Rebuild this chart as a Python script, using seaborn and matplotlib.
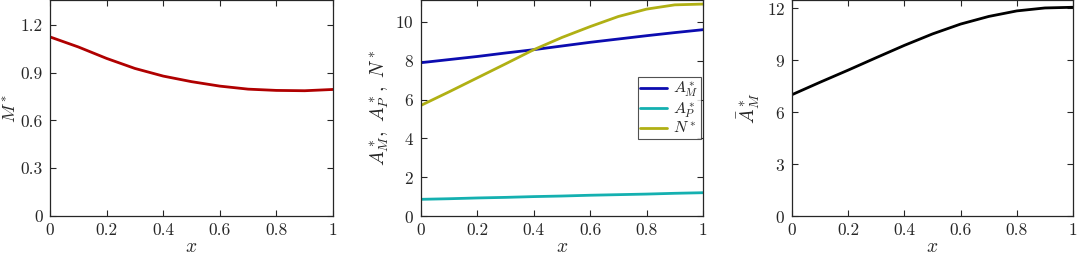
import matplotlib
matplotlib.use('Agg')
import matplotlib.pyplot as plt
import seaborn as sns

# values
x = [0, 0.1, 0.2, 0.3, 0.4, 0.5, 0.6, 0.7, 0.8, 0.9, 1.0]
m_star = [1.125, 1.062, 0.990, 0.927, 0.879, 0.844, 0.816, 0.797, 0.789, 0.787, 0.795]
a_m = [7.90, 8.06, 8.22, 8.40, 8.57, 8.76, 8.95, 9.12, 9.29, 9.45, 9.60]
a_p = [0.86, 0.89, 0.93, 0.96, 1.00, 1.03, 1.07, 1.10, 1.13, 1.17, 1.20]
n_star = [5.70, 6.40, 7.12, 7.84, 8.57, 9.20, 9.76, 10.28, 10.66, 10.88, 10.92]
a_m_bar = [7.01, 7.73, 8.43, 9.15, 9.86, 10.52, 11.09, 11.53, 11.85, 12.02, 12.06]

sns.set_theme(style='ticks')
plt.rcParams['font.family'] = ['cmr10', 'DejaVu Serif']
plt.rcParams['mathtext.fontset'] = 'cm'
plt.rcParams['axes.formatter.use_mathtext'] = True
plt.rcParams['axes.edgecolor'] = '#262626'
plt.rcParams['xtick.color'] = '#262626'
plt.rcParams['ytick.color'] = '#262626'

fig = plt.figure(figsize=(10.78, 2.59), dpi=100)
ax1 = fig.add_axes([0.0464, 0.166, 0.2625, 0.834])
ax2 = fig.add_axes([0.3905, 0.166, 0.2616, 0.834])
ax3 = fig.add_axes([0.7347, 0.166, 0.2607, 0.834])

sns.lineplot(x=x, y=m_star, ax=ax1, color='#b00000', lw=2)
sns.lineplot(x=x, y=a_m, ax=ax2, color='#0c0cb0', lw=2, label='$A^*_M$')
sns.lineplot(x=x, y=a_p, ax=ax2, color='#14b0b0', lw=2, label='$A^*_P$')
sns.lineplot(x=x, y=n_star, ax=ax2, color='#b0b014', lw=2, label='$N^*$')
sns.lineplot(x=x, y=a_m_bar, ax=ax3, color='black', lw=2)

ax1.set_ylim(0, 1.357)
ax1.set_yticks([0, 0.3, 0.6, 0.9, 1.2])
ax1.set_yticklabels(['0', '0.3', '0.6', '0.9', '1.2'])
ax2.set_ylim(0, 11.13)
ax2.set_yticks([0, 2, 4, 6, 8, 10])
ax3.set_ylim(0, 12.48)
ax3.set_yticks([0, 3, 6, 9, 12])

ax1.set_ylabel('$M^*$', fontsize=13, labelpad=1)
ax2.set_ylabel('$A^*_M,\\ A^*_P,\\ N^*$', fontsize=14, labelpad=3)
ax3.set_ylabel('$\\bar{A}^*_M$', fontsize=14, labelpad=3)

for ax in (ax1, ax2, ax3):
    ax.set_xlim(0, 1)
    ax.set_xticks([0, 0.2, 0.4, 0.6, 0.8, 1])
    ax.set_xticklabels(['0', '0.2', '0.4', '0.6', '0.8', '1'])
    ax.set_xlabel('$x$', fontsize=14, labelpad=0)
    ax.tick_params(direction='in', top=True, right=True, length=4, width=0.8,
                   labelsize=12.5, pad=5)
    for s in ax.spines.values():
        s.set_linewidth(0.9)

leg = ax2.legend(loc='center right', bbox_to_anchor=(0.993, 0.5), fontsize=11.5,
                 frameon=True, fancybox=False, handlelength=1.7, borderpad=0.15,
                 labelspacing=0.05, handletextpad=0.35, borderaxespad=0)
leg.get_frame().set_edgecolor('#262626')
leg.get_frame().set_linewidth(0.8)

fig.savefig('out.png', dpi=100)
